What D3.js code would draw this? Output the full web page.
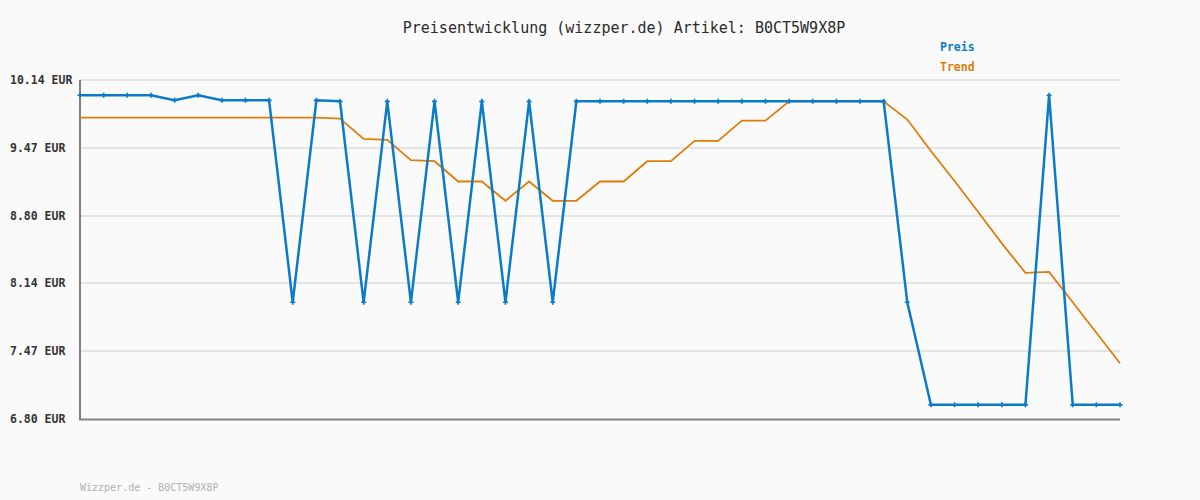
<!DOCTYPE html>
<html><head><meta charset="utf-8">
<script src="https://cdn.jsdelivr.net/npm/d3@7"></script>
<style>body{margin:0;background:#fafafa}svg{display:block}</style>
</head><body><svg id="c" width="1200" height="500"></svg>
<script>
const title = "Preisentwicklung (wizzper.de) Artikel: B0CT5W9X8P";
const footer = "Wizzper.de - B0CT5W9X8P";
const seriesNames = ["Preis", "Trend"];
const yTicks = [6.80, 7.47, 8.14, 8.80, 9.47, 10.14];
const preis = [9.99,9.99,9.99,9.99,9.94,9.99,9.94,9.94,9.94,7.95,
  9.94,9.93,7.95,9.93,7.95,9.93,7.95,9.93,7.95,9.93,
  7.95,9.93,9.93,9.93,9.93,9.93,9.93,9.93,9.93,9.93,
  9.93,9.93,9.93,9.93,9.93,7.95,6.94,6.94,6.94,6.94,
  6.94,9.99,6.94,6.94,6.94];
const trend = [9.77,9.77,9.77,9.77,9.77,9.77,9.77,9.77,9.77,9.77,
  9.77,9.76,9.56,9.55,9.35,9.34,9.14,9.14,8.95,9.14,
  8.95,8.95,9.14,9.14,9.34,9.34,9.54,9.54,9.74,9.74,
  9.93,9.93,9.93,9.93,9.93,9.75,9.44,9.145,8.84,8.53,
  8.24,8.25,7.95,7.65,7.35];
const colors = ["#0a7bc8", "#e07c0a"];

const svg = d3.select("#c");
const x = d3.scaleLinear().domain([0, preis.length - 1]).range([80, 1120]);
const y = d3.scaleLinear().domain([6.80, 10.14]).range([419, 80]);
const font = "'DejaVu Sans Mono', monospace";

svg.append("rect").attr("width",1200).attr("height",500).attr("fill","#fafafa");

// grid
svg.append("g").selectAll("line").data(yTicks.slice(1)).join("line")
  .attr("x1", 80).attr("x2", 1120).attr("y1", d => y(d)).attr("y2", d => y(d))
  .attr("stroke", "#e4e4e4").attr("stroke-width", 2);

// y labels
svg.append("g").selectAll("text").data(yTicks).join("text")
  .attr("x", 10).attr("y", d => y(d) + 4)
  .attr("font-family", font).attr("font-weight", "bold").attr("font-size", "11.5px")
  .attr("fill", "#333").text(d => d.toFixed(2) + " EUR");

// axes
svg.append("line").attr("x1", 80).attr("x2", 80).attr("y1", 80).attr("y2", 420)
  .attr("stroke", "#808080").attr("stroke-width", 2);
svg.append("line").attr("x1", 79).attr("x2", 1120).attr("y1", 419.5).attr("y2", 419.5)
  .attr("stroke", "#808080").attr("stroke-width", 2);

const line = d3.line().x((d, i) => x(i)).y(d => y(d));
svg.append("path").datum(trend).attr("d", line).attr("fill", "none")
  .attr("stroke", colors[1]).attr("stroke-width", 1.8);
svg.append("path").datum(preis).attr("d", line).attr("fill", "none")
  .attr("stroke", colors[0]).attr("stroke-width", 2.5);

// markers
const sym = d3.symbol().type(d3.symbolCross).size(14);
svg.append("g").selectAll("path").data(preis).join("path")
  .attr("transform", (d, i) => `translate(${x(i)},${y(d)})`)
  .attr("d", sym).attr("fill", colors[0]);

// title
svg.append("text").attr("x", 624).attr("y", 33).attr("text-anchor", "middle")
  .attr("font-family", font).attr("font-size", "15px").attr("fill", "#2a2a2a").text(title);

// legend
svg.append("g").selectAll("text").data(seriesNames).join("text")
  .attr("x", 940).attr("y", (d, i) => 51 + i * 20)
  .attr("font-family", font).attr("font-weight", "bold").attr("font-size", "11.5px")
  .attr("fill", (d, i) => colors[i]).text(d => d);

// footer
svg.append("text").attr("x", 80).attr("y", 491)
  .attr("font-family", font).attr("font-size", "10px").attr("fill", "#b0b0b0").text(footer);
</script></body></html>
